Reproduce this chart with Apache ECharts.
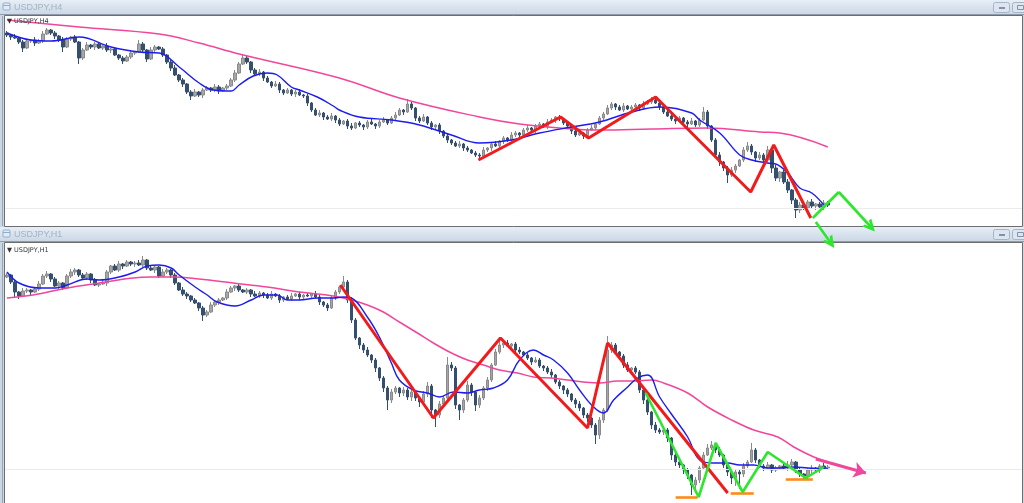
<!DOCTYPE html>
<html><head><meta charset="utf-8">
<script src="https://cdn.jsdelivr.net/npm/echarts@6/dist/echarts.min.js"></script>
<style>html,body{margin:0;padding:0;background:#cbd7e4}#c{width:1024px;height:503px}</style>
</head><body><div id="c"></div><script>
// ---- data (price in chart units; no price scale is shown in the screenshot) ----
const SLOTS = 254; // bar slots across each chart window
const h4Open0 = 193;
const h4Close = [191,189,188,184,178,185,186,183,185,192,
196,193,190,186,179,187,189,184,168,176,
181,179,182,178,180,176,177,171,168,165,
169,173,174,182,176,167,176,179,177,171,
164,158,151,146,142,134,130,134,131,136,
138,136,139,135,138,140,146,153,162,168,
164,156,152,154,148,144,140,142,136,133,
136,132,134,131,130,123,116,111,113,109,
107,110,106,102,105,100,98,103,101,99,
104,102,100,104,106,103,108,111,116,114,
122,118,108,105,109,103,99,101,95,90,
86,83,80,82,78,76,73,71,70,76,
78,82,80,85,88,86,91,93,91,96,
98,96,100,102,99,104,106,109,107,103,
100,95,91,93,90,96,98,102,108,112,
118,122,119,116,120,117,119,121,118,122,
124,126,123,119,114,110,107,105,108,104,
102,105,101,106,114,100,86,71,64,58,
51,56,60,66,76,80,74,68,71,66,
76,58,48,54,44,36,26,16,21,18,
24,20,22,19,23,21];
const h4UpWick = [2,1,3,1,2,2,1,3,2,3, 2,1,2,1,3,2,1,2,1,2, 3,1,2,2,1,3,1,2,1,2, 2,3,1,4,2,1,3,2,1,2,
1,2,3,1,2,1,2,3,1,2, 2,1,3,2,1,2,2,3,2,3, 2,1,2,3,1,2,1,3,2,1, 2,1,2,3,1,2,1,2,3,1,
2,3,1,2,1,2,3,1,2,1, 2,3,1,2,3,1,2,3,2,1, 5,2,1,2,3,1,2,1,2,1, 2,1,2,3,1,2,1,2,2,3,
1,2,3,1,2,1,3,2,1,2, 3,1,2,2,1,3,2,1,2,1, 2,1,3,2,1,2,3,1,2,2, 3,2,1,2,3,1,2,2,1,3,
2,3,1,2,1,2,3,1,2,1, 2,3,1,2,5,2,1,2,3,1, 2,3,2,1,3,4,2,1,3,2, 4,2,3,1,2,3,1,2,3,1,
2,3,1,2,3,2];
const h4DnWick = [2,3,1,2,4,1,2,3,1,2, 1,2,3,2,5,1,2,1,6,2, 1,2,3,1,2,2,3,1,2,3, 1,2,2,1,3,3,1,2,1,2,
2,3,1,2,3,2,4,1,2,3, 1,2,2,3,1,2,1,2,1,1, 2,3,1,2,3,1,2,1,3,2, 1,2,3,1,2,3,2,1,2,3,
1,2,3,2,1,3,2,1,2,3, 2,1,3,2,1,2,1,2,1,3, 1,2,3,2,1,2,3,2,3,2, 3,2,1,2,3,2,1,2,4,1,
2,3,1,2,3,2,1,2,3,1, 2,1,3,2,1,2,1,3,2,2, 1,3,2,1,3,2,1,2,1,2, 1,2,3,1,2,1,2,1,3,2,
1,2,1,3,2,1,2,3,1,2, 3,1,2,2,1,3,2,3,4,3, 8,2,3,1,2,2,3,4,2,3, 2,5,3,4,2,3,4,8,3,2,
3,2,4,2,3,2];
const h4MaFast = [[0,193],[6,186],[11,185],[18,189],[26,179],[33,174],[38,173],[43,159],[48,143],[51.5,136],[56,135],[58,141],[61.5,150],[65,153],[67.5,151],[71,139],[73,136],[77.5,129],[81.5,120],[83,116],[88,109],[96,106],[103,101],[111,91],[118,83],[126,86],[133,93],[141,99],[148,104],[156,114],[163,119],[171,113],[173,106],[178,93],[183,71],[186,66],[190,63],[192,62],[195,53],[198,38],[201,33],[204,21]];
const h4MaSlow = [[0,206],[18,199],[38,192],[48,183],[58,172],[83,148],[98,128],[118,109],[128,102],[138,98],[148,96],[161,97],[175,98],[188,94],[193,93],[205,79]];
const h4Zigzag = [[117.75,66],[138.25,109],[145.25,88],[162,129],[185.75,34],[191.5,81],[200.75,8]];
const h4GreenPath = [[201.25,8],[207.75,34]];
const h4GreenArrows = [[[207.75,34],[215.75,-1]],[[202,4],[205.75,-17]]];
const h4Level = 18;

const h1Open0 = 226;
const h1Close = [228,221,211,207,212,213,211,214,219,227,
229,224,217,220,215,227,231,233,228,225,
229,223,218,219,220,231,237,233,239,237,
241,239,240,238,243,235,233,236,227,231,
233,228,220,213,209,207,203,200,195,188,
191,198,201,203,205,211,215,217,213,211,
213,209,207,210,208,205,209,207,203,206,
204,207,209,206,208,207,209,206,201,198,
195,205,211,216,221,203,183,165,158,153,
148,143,135,125,115,103,111,115,110,113,
106,111,105,101,109,117,93,88,99,105,
138,135,98,93,103,118,111,98,105,115,
123,138,151,158,160,157,159,153,151,148,
145,141,143,137,135,131,128,121,117,113,
109,103,99,95,88,85,78,68,83,93,
153,158,151,147,138,133,135,131,113,103,
91,78,73,71,73,65,48,41,38,33,
28,18,23,35,48,55,58,53,48,38,
31,25,31,29,37,41,53,43,37,35,
38,33,35,37,35,38,41,33,29,27,
33,35,33,37,35,36];
const h1UpWick = [2,1,2,1,3,2,1,2,3,2, 3,1,2,2,1,2,3,2,1,2, 2,1,2,1,3,2,1,2,3,1, 2,1,2,3,4,1,2,2,1,3,
2,1,2,1,3,2,1,2,1,2, 2,3,1,2,1,3,2,1,2,1, 2,1,3,2,1,2,3,1,2,1, 2,3,1,2,1,2,1,3,2,1,
2,3,2,1,6,2,3,2,1,2, 3,1,2,1,2,2,3,2,1,3, 2,3,1,2,3,4,2,1,3,2, 8,3,2,1,2,4,2,1,3,2,
3,2,3,4,2,3,1,2,3,1, 2,1,3,2,1,2,3,1,2,1, 2,1,2,3,1,2,1,2,3,2, 14,3,2,1,2,3,1,2,2,1,
2,1,3,2,1,2,1,2,3,1, 2,1,3,2,3,4,4,2,3,1, 2,1,3,2,3,2,7,2,1,2, 3,1,2,1,2,4,3,1,2,1,
2,3,1,2,3,2];
const h1DnWick = [1,2,5,3,1,2,3,1,2,1, 2,3,1,3,2,1,2,3,2,1, 2,3,1,2,1,3,2,1,2,3, 1,2,3,1,2,2,1,3,2,1,
2,3,2,1,2,3,2,1,3,6, 2,1,2,3,1,2,1,3,2,1, 2,3,1,2,3,1,2,1,3,2, 1,2,1,3,2,1,2,1,3,2,
3,1,2,2,1,3,3,2,4,3, 2,3,4,3,4,10,3,2,4,3, 3,4,3,5,2,3,8,12,3,2, 2,3,4,10,3,2,4,6,3,2,
3,2,1,2,3,1,2,3,2,1, 2,3,1,2,3,2,3,2,3,4, 3,2,4,3,3,4,3,9,4,3, 2,3,2,1,3,2,1,2,3,4,
3,4,3,2,3,4,5,4,3,4, 4,10,8,3,2,1,2,3,2,3, 4,6,8,15,3,2,1,3,2,3, 2,3,2,1,2,3,2,3,3,4,
3,3,2,3,2,2];
const h1MaFast = [[0,231],[3,220],[8,215],[12,215],[15,218],[20,224],[23,223],[28,226],[32,231],[35,237],[38,238],[41,235],[43,228],[47,216],[50,208],[52.5,201],[57,197],[61,203],[64,208],[67.5,208],[70,203],[73,203],[77.5,205],[81.5,205],[84,206],[86,205],[90,186],[93,166],[96,140],[98,123],[101.5,113],[105,110],[108,106],[111.5,111],[115,110],[118,113],[121.5,115],[125,123],[128,143],[131.5,153],[134,148],[136.5,143],[140,130],[143,113],[146.5,96],[149,90],[151.5,103],[155,116],[157.5,125],[160,128],[163,106],[165.75,90],[170,66],[173,43],[176.5,40],[180,40],[183,38],[186.5,38],[190,35],[193,35],[196.5,36],[200,35],[205,34]];
const h1MaSlow = [[0,205],[6.5,208],[15,215],[23,220],[31.5,225],[36,226],[41.5,226],[48,224],[56.5,220],[65,216],[73,211],[81.5,207],[86,203],[90,198],[94,191],[98,181],[102.5,170],[106.5,160],[111,150],[115,143],[119,138],[123,133],[127.5,130],[131.5,126],[136,125],[140,123],[144,121],[148,120],[152.5,122],[156.5,122],[161,123],[164,120],[170,110],[175,96],[181,83],[186.5,73],[192.5,66],[196.5,56],[201.5,46],[205,41]];
const h1Zigzag = [[83.25,218],[106.5,85],[123.25,165],[145,75],[150,160],[180,10]];
const h1Green = [[159.5,110],[172.75,6],[177,60],[183.75,11],[190,51],[199.5,25],[204,36]];
const h1Supports = [[167,172.5,6],[180.75,186.5,10],[194.5,201.25,24]];
const h1TrendArrow = [[202,44],[214.5,30]];
const h1Level = 34;

// ---- build ----
function makeCandles(open0, close, up, dn){
  const out=[]; let prev=open0;
  for(let i=0;i<close.length;i++){
    const o=prev, c=close[i];
    out.push([o, c, Math.min(o,c)-dn[i], Math.max(o,c)+up[i]]);
    prev=c;
  }
  return out;
}
const slotNames = Array.from({length:SLOTS},(_,i)=>String(i));
const CHEV = 'path://M5,0 L10,10 L7.4,10 L5,4.8 L2.6,10 L0,10 Z';
const RED='#f21a1a', GREEN='#2de62d', BLUE='#1c1cf0', PINK='#f0469b', ORANGE='#ff8a1a';

function candleSeries(xi, yi, data, level){
  return {type:'candlestick', xAxisIndex:xi, yAxisIndex:yi, data, barWidth:3, silent:true,
    itemStyle:{color:'#a6a6a6', borderColor:'#8a8a8a', color0:'#34506e', borderColor0:'#34506e', borderWidth:1},
    markLine:{silent:true, symbol:'none', label:{show:false}, animation:false,
      lineStyle:{color:'#ececec', width:1, type:'solid'}, data:[{yAxis:level}]}};
}
function lineSeries(xi, yi, data, color, width, smooth, extra){
  return Object.assign({type:'line', xAxisIndex:xi, yAxisIndex:yi, data, showSymbol:false, symbol:'none',
    smooth: smooth, silent:true, clip:false, lineStyle:{color, width}, z:3}, extra||{});
}
function arrowMark(segs, color, width, head){
  return {silent:true, animation:false, symbol:['none', head], symbolSize:12, label:{show:false},
    itemStyle:{color:color}, lineStyle:{color, width, type:'solid'},
    data: segs.map(s=>[{coord:s[0]},{coord:s[1]}])};
}

const grad = {type:'linear',x:0,y:0,x2:0,y2:1,colorStops:[{offset:0,color:'#e7eef6'},{offset:1,color:'#cbd8e6'}]};
function titleBar(y, text){
  return [
    {type:'rect', shape:{x:0,y:y,width:1024,height:14}, style:{fill:grad}, z:-5},
    {type:'line', shape:{x1:0,y1:y+14.5,x2:1024,y2:y+14.5}, style:{stroke:'#8f9baa',lineWidth:1}, z:-4},
    {type:'rect', shape:{x:3,y:y+3,width:7,height:7,r:1}, style:{fill:'#e3ecf5',stroke:'#8eaed0',lineWidth:1}, z:-4},
    {type:'line', shape:{x1:3,y1:y+5.5,x2:10,y2:y+5.5}, style:{stroke:'#8eaed0',lineWidth:1}, z:-4},
    {type:'text', x:14, y:y+7.5, style:{text:text, fill:'#a3b2c3', font:'9px "Liberation Sans", Arial', textVerticalAlign:'middle'}, z:-4},
    {type:'rect', shape:{x:993.5,y:y+2.5,width:16,height:10,r:2}, style:{fill:'#dde6f0',stroke:'#a5b5c7',lineWidth:1}, z:-4},
    {type:'rect', shape:{x:999,y:y+7,width:6,height:2}, style:{fill:'#8393a6'}, z:-4},
    {type:'rect', shape:{x:1012.5,y:y+2.5,width:16,height:10,r:2}, style:{fill:'#dde6f0',stroke:'#a5b5c7',lineWidth:1}, z:-4},
    {type:'rect', shape:{x:1017.5,y:y+5.5,width:6,height:4}, style:{fill:'none',stroke:'#8393a6',lineWidth:1}, z:-4}
  ];
}
function frame(y, h){
  return [
    {type:'rect', shape:{x:5,y:y,width:1017,height:h}, style:{fill:'#ffffff'}, z:-6},
    {type:'rect', shape:{x:4.5,y:y-0.5,width:1018,height:h+1}, style:{fill:'none',stroke:'#6e6e6e',lineWidth:1}, z:-3},
    {type:'line', shape:{x1:2.5,y1:y,x2:2.5,y2:y+h}, style:{stroke:'#9aa6b3',lineWidth:1}, z:-3}
  ];
}
function innerLabel(y, text){
  return {type:'text', x:7, y:y, style:{text:'\u25BC '+text, fill:'#333', font:'6.5px "DejaVu Sans", Arial', textVerticalAlign:'middle'}, z:50};
}

const chart = echarts.init(document.getElementById('c'), null, {renderer:'canvas'});
chart.setOption({
  animation:false,
  backgroundColor:'#cbd7e4',
  grid:[
    // top window: 1 chart unit per pixel, extended 30 units below the window so overlays can run past it
    {left:5, top:16, width:1017, height:240, show:false},
    {left:5, top:243, width:1017, height:260, show:false}
  ],
  xAxis:[
    {type:'category', gridIndex:0, data:slotNames, boundaryGap:true, show:false},
    {type:'value', gridIndex:0, min:-0.5, max:SLOTS-0.5, show:false},
    {type:'category', gridIndex:1, data:slotNames, boundaryGap:true, show:false},
    {type:'value', gridIndex:1, min:-0.5, max:SLOTS-0.5, show:false}
  ],
  yAxis:[
    {type:'value', gridIndex:0, min:-30, max:210, show:false, splitLine:{show:false}},
    {type:'value', gridIndex:1, min:0, max:260, show:false, splitLine:{show:false}}
  ],
  graphic:{elements:[].concat(
    frame(16,210), titleBar(0,'USDJPY,H4'),
    frame(243,260), titleBar(227,'USDJPY,H1'),
    [innerLabel(21,'USDJPY,H4'), innerLabel(250,'USDJPY,H1')]
  )},
  series:[
    candleSeries(0,0,makeCandles(h4Open0,h4Close,h4UpWick,h4DnWick),h4Level),
    lineSeries(1,0,h4MaSlow,PINK,1.5,0.4),
    lineSeries(1,0,h4MaFast,BLUE,1.4,0.4),
    lineSeries(1,0,h4Zigzag,RED,3,false,{z:5}),
    lineSeries(1,0,h4GreenPath,GREEN,2.6,false,{z:5, markLine:arrowMark(h4GreenArrows,GREEN,2.6,CHEV)}),

    candleSeries(2,1,makeCandles(h1Open0,h1Close,h1UpWick,h1DnWick),h1Level),
    lineSeries(3,1,h1MaSlow,PINK,1.5,0.4,{markLine:arrowMark([h1TrendArrow],PINK,3,'arrow')}),
    lineSeries(3,1,h1MaFast,BLUE,1.4,0.4),
    lineSeries(3,1,h1Zigzag,RED,3,false,{z:5}),
    lineSeries(3,1,h1Green,GREEN,2.6,false,{z:6}),
    lineSeries(3,1,[],ORANGE,2.6,false,{z:6, markLine:{silent:true, animation:false, symbol:'none', label:{show:false},
      lineStyle:{color:ORANGE,width:2.6,type:'solid'},
      data:h1Supports.map(s=>[{coord:[s[0],s[2]]},{coord:[s[1],s[2]]}])}})
  ]
});
</script></body></html>
